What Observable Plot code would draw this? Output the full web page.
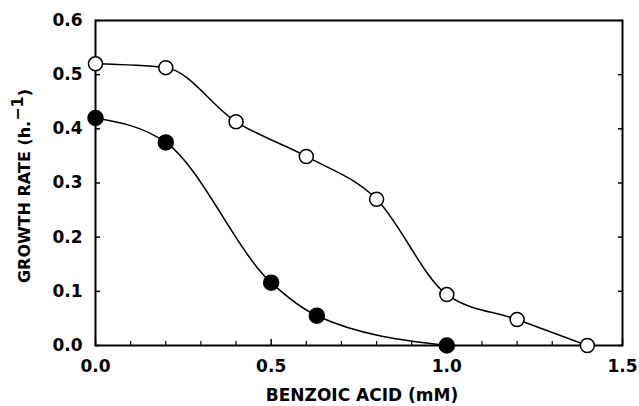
<!DOCTYPE html>
<html><head><meta charset="utf-8">
<script src="https://cdn.jsdelivr.net/npm/d3@7"></script>
<script src="https://cdn.jsdelivr.net/npm/@observablehq/plot@0.6"></script>
<style>body{margin:0;background:#fff}</style>
</head><body><div id="chart"></div>
<script>
// Open circles series
const openX = [0, 0.2, 0.4, 0.6, 0.8, 1.0, 1.2, 1.4];
const openY = [0.52, 0.513, 0.413, 0.349, 0.27, 0.094, 0.048, 0.0];
// Filled circles series
const filledX = [0, 0.2, 0.5, 0.63, 1.0];
const filledY = [0.42, 0.375, 0.116, 0.055, 0.0];
// Ticks
const xTickLabels = [0, 0.5, 1.0, 1.5];
const xMinorTicks = [0.1, 0.2, 0.3, 0.4, 0.6, 0.7, 0.8, 0.9, 1.1, 1.2, 1.3, 1.4];
const yTicks = [0, 0.1, 0.2, 0.3, 0.4, 0.5, 0.6];
const xLabel = "BENZOIC ACID (mM)";
const yLabel = "GROWTH RATE (h.−1)";

const open = openX.map((x, i) => ({x, y: openY[i]}));
const filled = filledX.map((x, i) => ({x, y: filledY[i]}));
const fmt = d3.format(".1f");

const chart = Plot.plot({
  width: 639, height: 406,
  marginLeft: 95, marginRight: 17, marginTop: 20, marginBottom: 61,
  style: {fontFamily: "'DejaVu Sans', sans-serif", fontWeight: "bold", fontSize: "17px", color: "black", background: "white"},
  x: {domain: [0, 1.5]},
  y: {domain: [0, 0.6]},
  marks: [
    Plot.axisY({ticks: yTicks, tickSize: -5, tickPadding: 18, tickFormat: fmt, label: null, strokeWidth: 1.5, fontSize: 17}),
    Plot.axisY({anchor: "right", ticks: yTicks, tickSize: -5, tickFormat: () => "", label: null, strokeWidth: 1.5}),
    Plot.axisX({ticks: xTickLabels, tickSize: -6, tickPadding: 20, tickFormat: fmt, label: null, strokeWidth: 1.5, fontSize: 17}),
    Plot.axisX({ticks: xMinorTicks, tickSize: -4, tickFormat: () => "", label: null, strokeWidth: 1.2}),
    Plot.frame({strokeWidth: 2}),
    Plot.line(open, {x: "x", y: "y", curve: "monotone-x", strokeWidth: 1.5}),
    Plot.line(filled, {x: "x", y: "y", curve: "monotone-x", strokeWidth: 1.5}),
    Plot.dot(open, {x: "x", y: "y", r: 7, fill: "white", stroke: "black", strokeWidth: 1.5}),
    Plot.dot(filled, {x: "x", y: "y", r: 7.5, fill: "black", stroke: "black"}),
    Plot.text([xLabel], {frameAnchor: "bottom", dy: 55, dx: 3, fontSize: 17}),
    Plot.text([yLabel], {frameAnchor: "left", textAnchor: "middle", rotate: -90, dx: -71, dy: 3, fontSize: 16})
  ]
});
document.getElementById("chart").appendChild(chart);

// superscript for the y label
d3.select(chart).selectAll("text").each(function() {
  const t = d3.select(this);
  if (t.text() === yLabel) {
    t.text(null);
    t.append("tspan").text("GROWTH RATE (h.");
    t.append("tspan").attr("dy", "-0.4em").text("−1");
    t.append("tspan").attr("dy", "0.4em").text(")");
  }
});
</script>
</body></html>
